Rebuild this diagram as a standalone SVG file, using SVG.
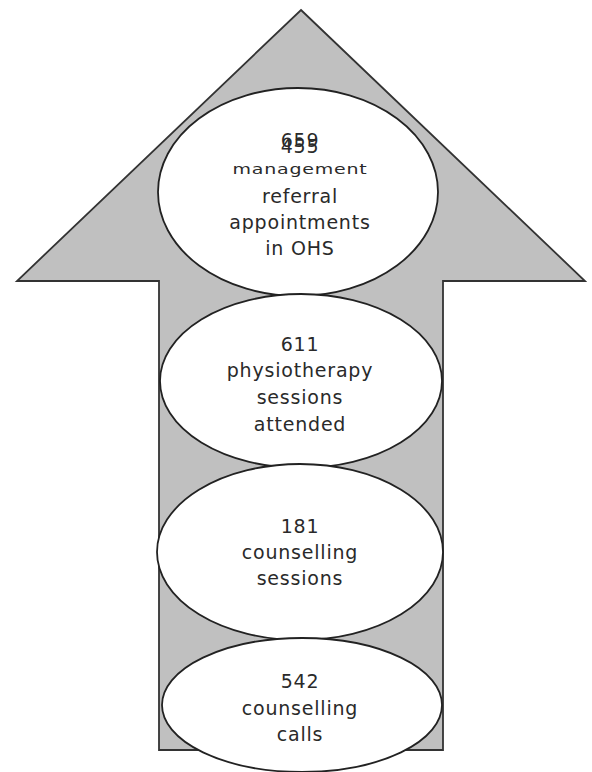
<svg xmlns="http://www.w3.org/2000/svg" width="592" height="772" viewBox="0 0 592 772">
<style>
.bg{fill:#ffffff}
.arrow{fill:#c0c0c0;stroke:#333333;stroke-width:1.8;stroke-linejoin:miter}
.node{fill:#ffffff;stroke:#222222;stroke-width:1.8}
.t{font-family:"DejaVu Sans",Verdana,sans-serif;font-size:19px;fill:#2a2a2a;text-anchor:middle;letter-spacing:0.8px}
</style>
<rect class="bg" x="0" y="0" width="592" height="772"/>
<g id="connectors">
<polygon id="arrow" class="arrow" points="301,10 585,281 443,281 443,750 159,750 159,281 17,281"/>
</g>
<g id="node1">
<ellipse class="node" cx="298" cy="192" rx="140" ry="104"/>
<text class="t" x="300" y="147">659</text>
<text class="t" x="300" y="153">455</text>
<text class="t" x="300" y="0" transform="translate(0,174) scale(1,0.7)">management</text>
<text class="t" x="300" y="203">referral</text>
<text class="t" x="300" y="229">appointments</text>
<text class="t" x="300" y="255">in OHS</text>
</g>
<g id="node2">
<ellipse class="node" cx="301" cy="381" rx="141" ry="87"/>
<text class="t" x="300" y="351">611</text>
<text class="t" x="300" y="377">physiotherapy</text>
<text class="t" x="300" y="404">sessions</text>
<text class="t" x="300" y="431">attended</text>
</g>
<g id="node3">
<ellipse class="node" cx="300" cy="552" rx="143" ry="88"/>
<text class="t" x="300" y="533">181</text>
<text class="t" x="300" y="559">counselling</text>
<text class="t" x="300" y="585">sessions</text>
</g>
<g id="node4">
<ellipse class="node" cx="302" cy="705" rx="140" ry="67"/>
<text class="t" x="300" y="688">542</text>
<text class="t" x="300" y="715">counselling</text>
<text class="t" x="300" y="741">calls</text>
</g>
</svg>
